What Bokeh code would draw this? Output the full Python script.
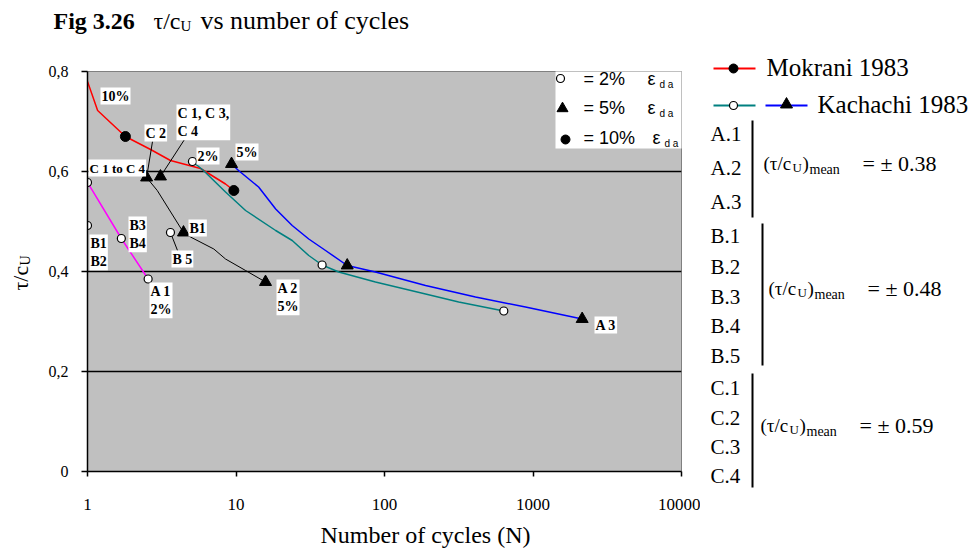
import math

from bokeh.core.properties import value
from bokeh.embed import file_html
from bokeh.layouts import column, row
from bokeh.models import (BoxAnnotation, CustomJSTickFormatter, FixedTicker, Label,
                          Range1d)
from bokeh.plotting import figure
from bokeh.resources import INLINE

# ---------------------------------------------------------------- data
# Mokrani 1983 (10 % double-amplitude strain)
mokrani_n = [1, 1.17, 1.8, 2.66, 3.62, 5.77, 8.5, 9.67]
mokrani_tau = [0.78, 0.722, 0.67, 0.644, 0.622, 0.606, 0.575, 0.562]
mokrani_pts_n = [1.8, 9.67]
mokrani_pts_tau = [0.67, 0.562]

# Kachachi 1983, 2 % strain
kach2_n = [5.09, 6.04, 8.5, 11.6, 18.5, 23.9, 30.9, 38.0, 49.2, 86.9, 189, 316, 636]
kach2_tau = [0.62, 0.602, 0.559, 0.522, 0.482, 0.462, 0.432, 0.413, 0.399, 0.379,
             0.355, 0.339, 0.321]
kach2_pts_n = [5.09, 38.0, 636]
kach2_pts_tau = [0.62, 0.413, 0.321]

# Kachachi 1983, 5 % strain
kach5_n = [9.33, 10.4, 14.2, 18.5, 23.9, 30.9, 40.1, 56.1, 86.9, 189, 410, 890, 2143]
kach5_tau = [0.615, 0.602, 0.569, 0.525, 0.492, 0.465, 0.442, 0.412, 0.399, 0.372,
             0.349, 0.329, 0.305]
kach5_pts_n = [9.33, 56.1, 2143]
kach5_pts_tau = [0.615, 0.412, 0.305]

# tests at 2 % strain (A.1 / B / C series)
a1_n = [1, 1.69, 2.56]
a1_tau = [0.578, 0.466, 0.385]
open_extra_n = [1, 3.62]
open_extra_tau = [0.492, 0.478]

# tests at 5 % strain (C -> B1 -> A.2)
c5_n = [2.5, 2.95, 4.43, 4.94, 7.09, 8.5, 11.6, 15.8]
c5_tau = [0.588, 0.562, 0.478, 0.469, 0.445, 0.425, 0.402, 0.379]
c5_pts_n = [2.5, 3.1, 4.43, 15.8]
c5_pts_tau = [0.588, 0.59, 0.478, 0.379]

x_ticks = [1, 10, 100, 1000, 10000]
y_ticks = [0, 0.2, 0.4, 0.6, 0.8]
mean_groups = [
    (["A.1", "A.2", "A.3"], "0.38"),
    (["B.1", "B.2", "B.3", "B.4", "B.5"], "0.48"),
    (["C.1", "C.2", "C.3", "C.4"], "0.59"),
]

# ---------------------------------------------------------------- page geometry
SERIF = "Liberation Serif"
SANS = "Liberation Sans"
W, H = 973, 548
TOP_H = 45                   # title strip
BOT_Y = 520                  # x-axis title strip starts here
LEFT_W, MAIN_R = 40, 700     # y-title strip | chart | series key
FL, FR, FT, FB = 87, 681, 71, 471  # plot frame edges on the page
MID_H = BOT_Y - TOP_H


def blank(x0, y0, w, h, top=0, bottom=0):
    """A figure without axes whose data space is page pixels (y downwards)."""
    f = figure(width=w, height=h, x_range=Range1d(x0, x0 + w),
               y_range=Range1d(y0 + h - bottom, y0 + top), x_axis_location=None,
               y_axis_location=None, min_border=0, min_border_left=0,
               min_border_right=0, min_border_top=top, min_border_bottom=bottom,
               output_backend="svg", toolbar_location=None)
    f.grid.visible = False
    f.outline_line_color = None
    f.background_fill_color = "white"
    f.border_fill_color = "white"
    return f


def gtext(f, s, x, y, size, font=SERIF, style="normal", align="left", angle=0.0):
    f.text(x=[x], y=[y], text=[s], text_font=value(font),
           text_font_size=value(f"{size}px"), text_font_style=style,
           text_align=align, text_baseline="middle", text_color="black",
           angle=angle)


# ---------------------------------------------------------------- main chart
p = figure(width=MAIN_R - LEFT_W, height=MID_H, x_axis_type="log",
           x_range=Range1d(1, 10000), y_range=Range1d(0, 0.8),
           min_border_left=FL - LEFT_W, min_border_right=MAIN_R - FR,
           min_border_top=FT - TOP_H, min_border_bottom=BOT_Y - FB,
           output_backend="svg", toolbar_location=None)
p.background_fill_color = "#c0c0c0"
p.border_fill_color = "white"
p.outline_line_color = "#808080"

p.xgrid.visible = False
p.ygrid.ticker = FixedTicker(ticks=[0.2, 0.4, 0.6])
p.ygrid.grid_line_color = "black"
p.ygrid.grid_line_width = 1.5

p.yaxis.ticker = FixedTicker(ticks=y_ticks)
p.yaxis.formatter = CustomJSTickFormatter(
    code="return tick == 0 ? '0' : tick.toFixed(1).replace('.', ',')")
p.xaxis.ticker = FixedTicker(ticks=x_ticks)
p.xaxis.formatter = CustomJSTickFormatter(code="return tick.toFixed(0)")
for ax in (p.xaxis[0], p.yaxis[0]):
    ax.axis_line_color = "black"
    ax.axis_line_width = 1.5
    ax.major_tick_line_color = "black"
    ax.major_tick_line_width = 1.5
    ax.minor_tick_line_color = None
    ax.major_tick_in = 0
    ax.major_label_text_font = SERIF
    ax.major_label_text_color = "black"
p.yaxis.major_tick_out = 6
p.yaxis.major_label_standoff = 13
p.yaxis.major_label_text_font_size = "16px"
p.xaxis.major_tick_out = 5
p.xaxis.major_label_standoff = 22
p.xaxis.major_label_text_font_size = "17px"

p.line(mokrani_n, mokrani_tau, line_color="#ff0000", line_width=1.5)
p.line(kach2_n, kach2_tau, line_color="#008080", line_width=1.5)
p.line(kach5_n, kach5_tau, line_color="#0000ff", line_width=1.5)
p.line(a1_n, a1_tau, line_color="#ff00ff", line_width=1.5)
p.line(c5_n, c5_tau, line_color="black", line_width=1)


def to_data(px, py):
    """Page pixel -> (N, tau) inside the plot frame."""
    n = 10 ** ((px - FL) / (FR - FL) * 4)
    tau = (FB - py) / (FB - FT) * 0.8
    return n, tau


# leader lines from point labels to their points
leaders = [((152, 141), (2.5, 0.588)),
           ((184, 139), (3.1, 0.59)),
           ((177, 250), (3.62, 0.478))]
for (lx, ly), (n, t) in leaders:
    n0, t0 = to_data(lx, ly)
    p.segment(x0=[n0], y0=[t0], x1=[n], y1=[t], line_color="black", line_width=1)

open_style = dict(marker="circle", size=8, fill_color="white",
                  line_color="black", line_width=1.2)
p.scatter(kach2_pts_n, kach2_pts_tau, **open_style)
p.scatter(a1_n, a1_tau, **open_style)
p.scatter(open_extra_n, open_extra_tau, **open_style)
p.scatter(mokrani_pts_n, mokrani_pts_tau, marker="circle", size=10,
          fill_color="black", line_color="black")
p.scatter(kach5_pts_n, kach5_pts_tau, marker="triangle", size=12,
          fill_color="black", line_color="black")
p.scatter(c5_pts_n, c5_pts_tau, marker="triangle", size=12,
          fill_color="black", line_color="black")


def label(s, x, y, size, font=SERIF, style="normal", baseline="middle", bg=None, pad=0):
    """Annotation text placed at a page position inside the chart."""
    p.add_layout(Label(x=x - LEFT_W, y=y - TOP_H, x_units="canvas", y_units="canvas",
                       text=s, text_font=font, text_font_size=f"{size}px",
                       text_font_style=style, text_align="left",
                       text_baseline=baseline, text_color="black",
                       background_fill_color=bg, padding=pad, text_line_height=1.25))


point_labels = [
    ("10%", 100, 87), ("C 2", 144, 124), ("C 1, C 3,\nC 4", 176, 104),
    ("2%", 196, 147), ("5%", 235, 143), ("C 1 to C 4", 88, 159),
    ("B1\nB2", 89, 234), ("B3\nB4", 128, 216), ("B1", 188, 219),
    ("B 5", 171, 250), ("A 1\n2%", 149, 282), ("A 2\n5%", 276, 279),
    ("A 3", 594, 316),
]
for s, x, y in point_labels:
    size = 13 if s.startswith("C 1 to") else 14
    label(s, x, y, size, style="bold", baseline="top", bg="white", pad=1)

# strain key inside the chart
p.add_layout(BoxAnnotation(left=555 - LEFT_W, right=682 - LEFT_W,
                           top=58 - TOP_H, bottom=148 - TOP_H,
                           left_units="canvas", right_units="canvas",
                           top_units="canvas", bottom_units="canvas",
                           fill_color="white", fill_alpha=1, line_alpha=0))
key_pos = [to_data(560, 78), to_data(562, 108), to_data(565, 139)]
p.scatter([key_pos[0][0]], [key_pos[0][1]], level="overlay", **open_style)
p.scatter([key_pos[1][0]], [key_pos[1][1]], marker="triangle", size=11,
          level="overlay", fill_color="black", line_color="black")
p.scatter([key_pos[2][0]], [key_pos[2][1]], marker="circle", size=9,
          level="overlay", fill_color="black", line_color="black")
for lbl, y, xe in (("= 2%", 78, 647), ("= 5%", 107, 647), ("= 10%", 137, 652)):
    label(lbl, 583, y, 18, font=SANS)
    label("\u03b5", xe, y, 18, font=SANS)
    label("d a", xe + 12, y + 6, 10, font=SANS)

# ---------------------------------------------------------------- title strip
p_top = blank(0, 0, MAIN_R, TOP_H)
gtext(p_top, "Fig 3.26", 53, 20, 24, style="bold")
gtext(p_top, "\u03c4/c", 153, 20, 24)
gtext(p_top, "U", 180, 25, 15)
gtext(p_top, "vs number of cycles", 200, 20, 26)

# ---------------------------------------------------------------- y title strip
# shares the chart's top/bottom borders, so its drawing area is the frame band
p_left = blank(0, TOP_H, LEFT_W, MID_H, top=FT - TOP_H, bottom=BOT_Y - FB)
gtext(p_left, "\u03c4/c", 20, 290, 22, angle=math.pi / 2)
gtext(p_left, "U", 25, 265, 14, angle=math.pi / 2)

# ---------------------------------------------------------------- x title strip
p_bot = blank(0, BOT_Y, MAIN_R, H - BOT_Y)
gtext(p_bot, "Number of cycles (N)", 425, 534, 24, align="center")

# ---------------------------------------------------------------- series key
p_side = blank(MAIN_R, 0, W - MAIN_R, H)
p_side.segment(x0=[713, 713, 765], y0=[68, 105, 105], x1=[755, 755, 807],
               y1=[68, 105, 105], line_color=["#ff0000", "#008080", "#0000ff"],
               line_width=2)
p_side.scatter([733], [68], marker="circle", size=9, fill_color="black",
               line_color="black")
p_side.scatter([733], [105], **open_style)
p_side.scatter([786], [104], marker="triangle", size=12, fill_color="black",
               line_color="black")
gtext(p_side, "Mokrani 1983", 766, 67, 25)
gtext(p_side, "Kachachi 1983", 817, 104, 25)

group_rows = [[133, 167, 201], [235, 266, 296, 325, 355], [387, 417, 446, 475]]
group_bars = [(752, 120, 217), (762, 223, 365), (752, 373, 487)]
group_text = [(763, 163), (768, 288), (760, 425)]
for (names, mean), rows, (bx, by0, by1), (tx, ty) in zip(mean_groups, group_rows,
                                                        group_bars, group_text):
    for nm, y in zip(names, rows):
        gtext(p_side, nm, 710, y, 21)
    p_side.segment(x0=[bx], y0=[by0], x1=[bx], y1=[by1], line_color="black",
                   line_width=2)
    gtext(p_side, "(\u03c4/c", tx, ty, 19)
    gtext(p_side, "U", tx + 29, ty + 4, 13)
    gtext(p_side, ")", tx + 39, ty, 19)
    gtext(p_side, "mean", tx + 46, ty + 6, 14)
    gtext(p_side, "= \u00b1 " + mean, tx + 99, ty, 22)

page = row(column(p_top, row(p_left, p), p_bot), column(p_side))
open("out.html", "w").write(file_html(page, INLINE))
